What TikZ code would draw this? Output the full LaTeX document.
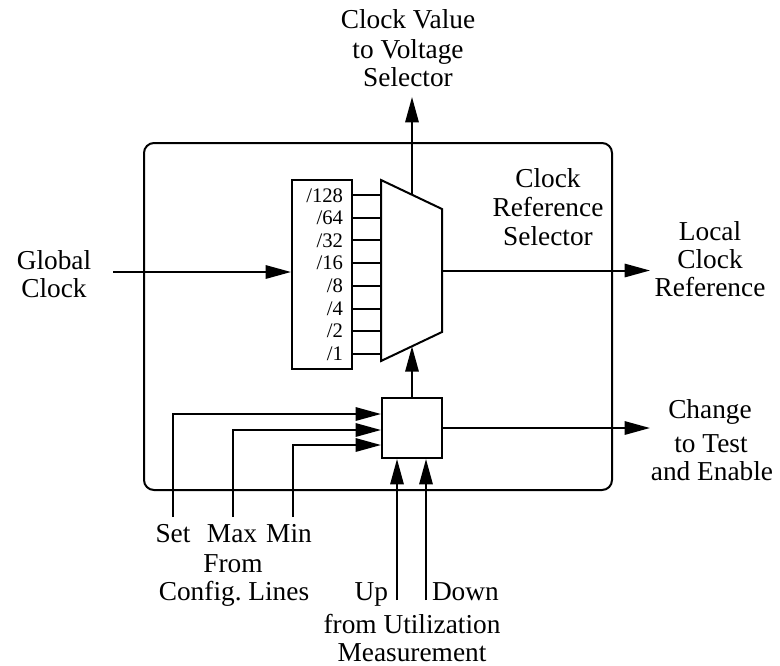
\documentclass[tikz,border=0pt]{standalone}
\usepackage{fontspec}
\setmainfont{Liberation Serif}
\usetikzlibrary{arrows.meta}
\begin{document}
\begin{tikzpicture}[x=0.75pt,y=-0.75pt, line width=1.5pt,
  arr/.style={-{Triangle[length=19pt,width=10pt]}},
  lbl/.style={anchor=base, inner sep=0pt, font=\fontsize{20.5}{20.5}\selectfont},
  divlbl/.style={anchor=base east, inner sep=0pt, font=\fontsize{15.5}{15.5}\selectfont},
  boxed/.style={draw, inner sep=0pt}]
\useasboundingbox (0,0) rectangle (780,665);
% outer frame
\node[boxed, rounded corners=7.5pt, minimum width=351pt, minimum height=260.25pt] (frame) at (378,316.5) {};
% divider block
\node[boxed, minimum width=45pt, minimum height=141.75pt] (div) at (322,274.5) {};
% multiplexer
\coordinate (m1) at (381,180);
\coordinate (m2) at (442,209);
\coordinate (m3) at (442,332);
\coordinate (m4) at (381,361);
\draw (m1) -- (m2) -- (m3) -- (m4) -- cycle;
\coordinate (mout) at (442,270.5);
\coordinate (mtop) at (412,194.7);
\coordinate (mbot) at (412,346.3);
% divider outputs
\foreach \t [count=\i from 0] in {/128,/64,/32,/16,/8,/4,/2,/1} {
  \coordinate (in\i) at (381,195+22.7*\i);
  \draw (div.east |- in\i) -- (in\i);
  \node[divlbl] (dl\i) at (344,202+22.65*\i) {\t};
}
% global clock
\coordinate (gcs) at (113,272);
\draw[arr] (gcs) -- (div.west |- gcs);
\node[lbl] (gc1) at (54,269) {Global};
\node[lbl] (gc2) at (54,297) {Clock};
% clock value out
\coordinate (cvtip) at (412,97);
\draw[arr] (mtop) -- (cvtip);
\node[lbl] (cv1) at (408,28) {Clock Value};
\node[lbl] (cv2) at (408,58) {to Voltage};
\node[lbl] (cv3) at (408,86) {Selector};
% local clock reference
\coordinate (lctip) at (650,270.5);
\draw[arr] (mout) -- (lctip);
\node[lbl] (lc1) at (710,240) {Local};
\node[lbl] (lc2) at (710,268) {Clock};
\node[lbl] (lc3) at (710,296) {Reference};
% clock reference selector label
\node[lbl] (crs1) at (548,187) {Clock};
\node[lbl] (crs2) at (548,216) {Reference};
\node[lbl] (crs3) at (548,245) {Selector};
% control box
\node[boxed, minimum size=45pt] (sb) at (412,428) {};
\draw[arr] (sb.north) -- (mbot);
\coordinate (chtip) at (650,428);
\draw[arr] (sb.east) -- (chtip);
\node[lbl] (ch1) at (710,418) {Change};
\node[lbl] (ch2) at (711,452) {to Test};
\node[lbl] (ch3) at (712,480) {and Enable};
% config inputs
\coordinate (setb) at (173,517);
\coordinate (maxb) at (233,517);
\coordinate (minb) at (293,517);
\draw[arr] (setb) |- ([yshift=10.5pt]sb.west);
\draw[arr] (maxb) |- ([yshift=-1.5pt]sb.west);
\draw[arr] (minb) |- ([yshift=-12.75pt]sb.west);
\node[lbl] (setl) at (173,542) {Set};
\node[lbl] (maxl) at (232,542) {Max};
\node[lbl] (minl) at (289,542) {Min};
\node[lbl] (fr1) at (233,572) {From};
\node[lbl] (fr2) at (234,600) {Config.\ Lines};
% utilization inputs
\coordinate (upb) at (397,600);
\coordinate (dnb) at (426,600);
\draw[arr] (upb) -- (upb |- sb.south);
\draw[arr] (dnb) -- (dnb |- sb.south);
\node[lbl, anchor=base east] (upl) at (389,600) {Up};
\node[lbl, anchor=base west] (dnl) at (431,600) {Down};
\node[lbl] (ut1) at (412,633) {from Utilization};
\node[lbl] (ut2) at (412,661) {Measurement};
\end{tikzpicture}
\end{document}
